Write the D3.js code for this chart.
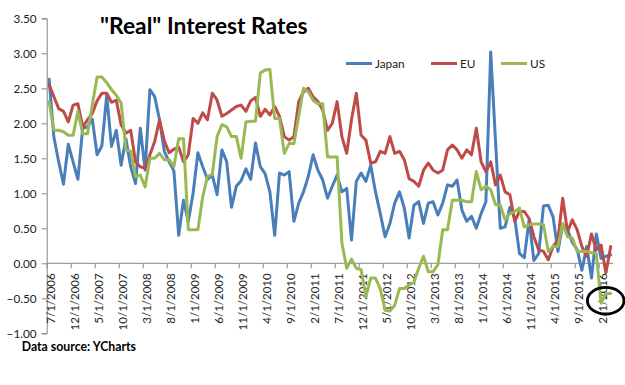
<!DOCTYPE html>
<html>
<head>
<meta charset="utf-8">
<script src="https://cdn.jsdelivr.net/npm/d3@7"></script>
<style>
  body { margin: 0; background: #fff; }
  svg { display: block; }
</style>
</head>
<body>
<svg width="625" height="385"></svg>
<script>
// monthly "real" rates, 7/2006 .. 4/2016
const japan = [2.63, 1.80, 1.45, 1.13, 1.70, 1.45, 1.20, 1.93, 1.95, 2.06,
    1.55, 1.68, 2.40, 1.67, 1.90, 1.40, 1.78, 1.38, 1.14, 1.93,
    1.33, 2.48, 2.38, 2.05, 1.60, 1.45, 1.32, 0.40, 0.90, 0.60,
    1.00, 1.58, 1.38, 1.20, 1.26, 0.98, 1.62, 1.45, 0.80, 1.10,
    1.18, 1.35, 1.20, 1.72, 1.38, 1.28, 1.02, 0.40, 1.29, 1.26,
    1.31, 0.60, 0.86, 1.02, 1.24, 1.55, 1.33, 1.19, 0.93, 1.10,
    1.26, 1.02, 1.07, 0.33, 1.17, 1.29, 1.17, 1.40, 1.02, 0.71,
    0.38, 0.57, 0.86, 1.02, 0.79, 0.36, 0.83, 0.88, 0.57, 0.86,
    0.88, 0.69, 0.86, 1.12, 1.10, 1.19, 0.76, 0.60, 0.67, 0.50,
    0.71, 0.88, 3.02, 1.75, 0.50, 0.52, 0.80, 0.65, 0.14, 0.08,
    0.62, 0.04, 0.14, 0.82, 0.83, 0.66, 0.17, 0.55, 0.48, 0.30,
    0.20, -0.10, 0.24, -0.21, 0.42, 0.07, 0.10, 0.12]
const eu = [2.55, 2.38, 2.21, 2.17, 2.02, 2.26, 2.28, 1.95, 2.05, 2.14,
    2.32, 2.43, 2.43, 2.30, 2.33, 1.98, 1.86, 1.90, 1.45, 1.38,
    1.36, 1.55, 1.74, 2.05, 1.75, 1.58, 1.63, 1.66, 1.45, 1.55,
    2.07, 2.00, 2.15, 2.05, 2.43, 2.33, 2.10, 2.14, 2.19, 2.24,
    2.26, 2.17, 2.32, 2.37, 2.10, 2.20, 2.12, 2.24, 2.10, 1.81,
    1.76, 1.81, 2.31, 2.45, 2.50, 2.38, 2.31, 2.19, 1.90, 2.00,
    2.31, 1.81, 1.57, 2.05, 2.43, 1.83, 1.76, 1.43, 1.45, 1.60,
    1.57, 1.81, 1.57, 1.60, 1.48, 1.21, 1.17, 1.10, 1.33, 1.43,
    1.33, 1.29, 1.33, 1.62, 1.69, 1.62, 1.50, 1.62, 1.55, 1.93,
    1.45, 1.31, 1.45, 1.12, 1.26, 1.02, 0.98, 0.60, 0.74, 0.74,
    0.64, 0.38, 0.19, 0.17, 0.05, 0.24, 0.33, 0.93, 0.45, 0.62,
    0.48, 0.24, 0.10, 0.42, 0.19, 0.26, -0.14, 0.24]
const us = [2.31, 1.90, 1.90, 1.88, 1.83, 1.83, 2.17, 1.85, 1.85, 2.26,
    2.66, 2.66, 2.58, 2.48, 2.40, 2.29, 1.62, 1.60, 1.24, 1.26,
    1.09, 1.50, 1.50, 1.57, 1.48, 1.48, 1.38, 1.78, 1.78, 0.48,
    0.48, 0.48, 0.95, 1.24, 1.27, 1.81, 1.98, 1.95, 1.81, 1.81,
    1.50, 2.02, 2.03, 2.03, 2.72, 2.76, 2.77, 2.07, 2.07, 1.57,
    1.71, 1.71, 2.10, 2.50, 2.45, 2.33, 2.28, 2.28, 1.52, 1.52,
    1.52, 0.29, -0.07, 0.06, -0.07, -0.09, -0.48, -0.21, -0.21, -0.37,
    -0.67, -0.68, -0.60, -0.36, -0.36, -0.31, -0.27, -0.07, 0.10, -0.12,
    -0.12, -0.02, 0.48, 0.48, 0.90, 0.90, 0.90, 0.88, 0.88, 1.31,
    1.05, 1.10, 1.05, 0.84, 0.83, 0.62, 0.71, 0.74, 0.79, 0.52,
    0.55, 0.56, 0.56, 0.55, 0.17, 0.24, 0.24, 0.57, 0.38, 0.36,
    0.17, 0.17, 0.17, 0.15, 0.14, -0.57, -0.43, -0.43]

const seriesNames = ["Japan", "EU", "US"]
const seriesColors = ["#4a7ebb", "#be4b48", "#98b954"]
const yTicks = [-1, -0.5, 0, 0.5, 1, 1.5, 2, 2.5, 3, 3.5]
const tickLabels = ["7/1/2006", "12/1/2006", "5/1/2007", "10/1/2007", "3/1/2008",
    "8/1/2008", "1/1/2009", "6/1/2009", "11/1/2009", "4/1/2010", "9/1/2010",
    "2/1/2011", "7/1/2011", "12/1/2011", "5/1/2012", "10/1/2012", "3/1/2013",
    "8/1/2013", "1/1/2014", "6/1/2014", "11/1/2014", "4/1/2015", "9/1/2015",
    "2/1/2016"]

const font = "Lato, 'Liberation Sans', sans-serif"

function draw() {
    const svg = d3.select("svg")
    const months = d3.range(japan.length)

    const x = d3.scaleBand().domain(months).range([46.7, 613.1])
    const y = d3.scaleLinear().domain([-1, 3.5]).range([333.3, 18.3])
    const bw = x.bandwidth()

    svg.append("rect").attr("width", 625).attr("height", 385).attr("fill", "#fff")

    // y axis
    const yAxis = svg.append("g").attr("transform", "translate(46.7,0)")
        .call(d3.axisLeft(y).tickValues(yTicks).tickFormat(d3.format(".2f")).tickSizeOuter(0).tickSize(5).tickPadding(5))
    yAxis.select(".domain").attr("stroke", "#868686")
    yAxis.selectAll(".tick line").attr("stroke", "#868686")
    yAxis.selectAll("text").attr("font-family", font).attr("font-size", 11.8).attr("fill", "#222")

    // x axis at zero
    const y0 = y(0)
    svg.append("line").attr("x1", 46.7).attr("x2", 613.1).attr("y1", y0).attr("y2", y0)
        .attr("stroke", "#868686")
    const tickIdx = months.filter(i => i % 5 === 0)
    svg.selectAll(".xtick").data(tickIdx).enter().append("line")
        .attr("x1", i => x(i) + 0.5).attr("x2", i => x(i) + 0.5)
        .attr("y1", y0).attr("y2", y0 + 5)
        .attr("stroke", "#868686")
    svg.selectAll(".xlab").data(tickIdx).enter().append("text")
        .attr("transform", i => `translate(${x(i) + bw / 2 + 1.5},${y0 + 10}) rotate(-90)`)
        .attr("text-anchor", "end")
        .attr("dy", "0.35em")
        .attr("font-family", font).attr("font-size", 11.5).attr("fill", "#222")
        .text((i, k) => tickLabels[k])

    // lines
    const line = d3.line().x((d, i) => x(i) + bw / 2).y(d => y(d))
    ;[japan, eu, us].forEach((s, k) => {
        svg.append("path").datum(s)
            .attr("d", line)
            .attr("fill", "none")
            .attr("stroke", seriesColors[k])
            .attr("stroke-width", 3)
            .attr("stroke-linejoin", "round")
            .attr("stroke-linecap", "round")
    })

    // title
    svg.append("text").attr("x", 100).attr("y", 33.5)
        .attr("font-family", font).attr("font-weight", "bold").attr("font-size", 22.8)
        .attr("fill", "#000")
        .text("\"Real\" Interest Rates")

    // legend
    const legX = [346, 431, 501]
    seriesNames.forEach((n, k) => {
        svg.append("line").attr("x1", legX[k]).attr("x2", legX[k] + 26)
            .attr("y1", 63.5).attr("y2", 63.5)
            .attr("stroke", seriesColors[k]).attr("stroke-width", 3)
        svg.append("text").attr("x", legX[k] + 29).attr("y", 67.8)
            .attr("font-family", font).attr("font-size", 11.8).attr("fill", "#222")
            .text(n)
    })

    svg.append("text").attr("x", 21.7).attr("y", 350.5)
        .attr("font-family", font).attr("font-weight", "bold").attr("font-size", 12.3)
        .attr("fill", "#000")
        .text("Data source: YCharts")

    svg.append("ellipse").attr("cx", 605.7).attr("cy", 300.7).attr("rx", 18.3).attr("ry", 13.3)
        .attr("fill", "none").attr("stroke", "#000").attr("stroke-width", 2.8)
}
draw()
</script>
</body>
</html>
